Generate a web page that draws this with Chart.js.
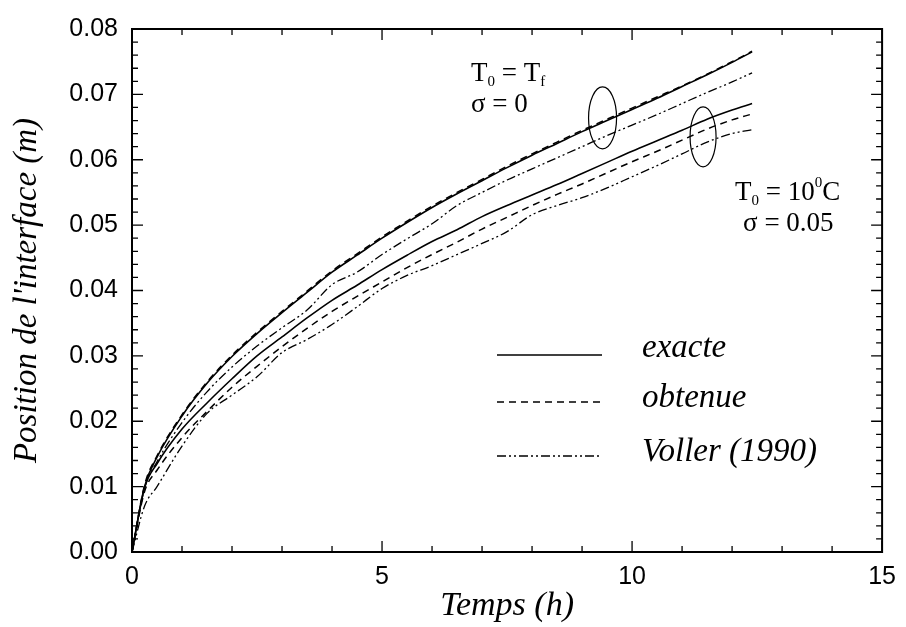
<!DOCTYPE html>
<html><head><meta charset="utf-8">
<script src="https://cdn.jsdelivr.net/npm/chart.js@4.4.1/dist/chart.umd.min.js"></script>
<style>html,body{margin:0;padding:0;background:#fff}#wrap{width:906px;height:627px}</style>
</head><body><div id="wrap"><canvas id="c" width="906" height="627"></canvas></div>
<script>
// Time (h)
const temps = [0, 0.25, 0.5, 1, 1.5, 2, 2.5, 3, 3.5, 4, 4.5, 5, 5.5, 6, 6.5, 7, 7.5, 8, 8.5, 9, 9.5, 10, 10.5, 11, 11.5, 12, 12.4];
// T0 = Tf, sigma = 0
const exacteTf  = [0, 0.0100, 0.0145, 0.0208, 0.0258, 0.0299, 0.0334, 0.0366, 0.0397, 0.0428, 0.0454, 0.0480, 0.0504, 0.0527, 0.0548, 0.0568, 0.0588, 0.0607, 0.0625, 0.0643, 0.0660, 0.0677, 0.0694, 0.0712, 0.0730, 0.0749, 0.0765];
const obtenueTf = [0, 0.0102, 0.0147, 0.0210, 0.0260, 0.0301, 0.0336, 0.0368, 0.0399, 0.0430, 0.0456, 0.0482, 0.0506, 0.0529, 0.0550, 0.0570, 0.0590, 0.0609, 0.0627, 0.0645, 0.0662, 0.0679, 0.0696, 0.0713, 0.0731, 0.0750, 0.0766];
const vollerTf  = [0, 0.0097, 0.0138, 0.0198, 0.0245, 0.0283, 0.0315, 0.0343, 0.0370, 0.0409, 0.0428, 0.0455, 0.0479, 0.0502, 0.0530, 0.0550, 0.0569, 0.0586, 0.0603, 0.0620, 0.0637, 0.0653, 0.0669, 0.0686, 0.0703, 0.0719, 0.0733];
// T0 = 10 C, sigma = 0.05
const exacte10  = [0, 0.0098, 0.0135, 0.0188, 0.0228, 0.0265, 0.0300, 0.0329, 0.0358, 0.0385, 0.0408, 0.0432, 0.0454, 0.0475, 0.0493, 0.0513, 0.0530, 0.0546, 0.0562, 0.0579, 0.0596, 0.0613, 0.0629, 0.0645, 0.0662, 0.0676, 0.0686];
const obtenue10 = [0, 0.0092, 0.0125, 0.0175, 0.0215, 0.0252, 0.0284, 0.0314, 0.0342, 0.0368, 0.0391, 0.0413, 0.0435, 0.0455, 0.0474, 0.0494, 0.0512, 0.0530, 0.0547, 0.0563, 0.0580, 0.0597, 0.0613, 0.0630, 0.0647, 0.0661, 0.0670];
const voller10  = [0, 0.0070, 0.0100, 0.0162, 0.0212, 0.0240, 0.0268, 0.0305, 0.0325, 0.0348, 0.0375, 0.0403, 0.0423, 0.0438, 0.0455, 0.0472, 0.0490, 0.0516, 0.0530, 0.0542, 0.0557, 0.0574, 0.0591, 0.0609, 0.0627, 0.0640, 0.0646];

const xRange = [0, 15];
const yRange = [0, 0.08];
const legendLabels = ['exacte', 'obtenue', 'Voller (1990)'];
const xTitle = 'Temps (h)';
const yTitle = "Position de l'interface (m)";

const SOLID = [], DASH = [7, 5], DDOT = [9, 3, 2, 3, 2, 3];
const pts = arr => temps.map((t, i) => ({x: t, y: arr[i]}));
function ds(arr, dash, w) {
  return {data: pts(arr), borderColor: '#000', borderWidth: w, borderDash: dash,
    pointRadius: 0, fill: false, cubicInterpolationMode: 'monotone'};
}

const serif = '"Liberation Serif", "DejaVu Serif", serif';
const sans = '"Liberation Sans", Arial, sans-serif';

const framePlugin = {
  id: 'frame',
  afterDraw(chart) {
    const {ctx, chartArea: a, scales: {x, y}} = chart;
    ctx.save();
    ctx.strokeStyle = '#000';
    ctx.lineWidth = 2;
    ctx.strokeRect(a.left, a.top, a.right - a.left, a.bottom - a.top);
    ctx.lineWidth = 1.3;
    ctx.beginPath();
    for (let k = 0; k <= 40; k++) {
      const v = k * 0.002, py = y.getPixelForValue(v);
      const len = (k % 5 === 0) ? 11 : 6;
      ctx.moveTo(a.left, py); ctx.lineTo(a.left + len, py);
      ctx.moveTo(a.right, py); ctx.lineTo(a.right - len, py);
    }
    for (let k = 0; k <= 15; k++) {
      const px = x.getPixelForValue(k);
      const len = (k % 5 === 0) ? 11 : 6;
      ctx.moveTo(px, a.bottom); ctx.lineTo(px, a.bottom - len);
      ctx.moveTo(px, a.top); ctx.lineTo(px, a.top + len);
    }
    ctx.stroke();

    // annotations
    const X = v => x.getPixelForValue(v), Y = v => y.getPixelForValue(v);
    ctx.lineWidth = 1.2;
    ctx.beginPath();
    ctx.ellipse(X(9.41), Y(0.0664), 14, 31, 0, 0, Math.PI * 2);
    ctx.stroke();
    ctx.beginPath();
    ctx.ellipse(X(11.42), Y(0.0635), 13, 30, 0, 0, Math.PI * 2);
    ctx.stroke();

    ctx.fillStyle = '#000';
    ctx.textBaseline = 'alphabetic';
    ctx.textAlign = 'left';
    function rich(parts, px, py) {
      let cx = px;
      for (const [txt, kind] of parts) {
        const size = kind ? 15 : 27;
        ctx.font = size + 'px ' + serif;
        const dy = kind === 'sub' ? 5 : (kind === 'sup' ? -13 : 0);
        ctx.fillText(txt, cx, py + dy);
        cx += ctx.measureText(txt).width;
      }
    }
    rich([['T'], ['0', 'sub'], [' = T'], ['f', 'sub']], X(6.78), Y(0.0720));
    rich([['σ = 0']], X(6.78), Y(0.0673));
    rich([['T'], ['0', 'sub'], [' = 10'], ['0', 'sup'], ['C']], X(12.06), Y(0.0538));
    rich([['σ = 0.05']], X(12.22), Y(0.0491));

    // legend
    const dashes = [SOLID, DASH, DDOT];
    const lineY = [355, 402, 456];
    const textY = [357, 407, 461];
    for (let i = 0; i < 3; i++) {
      ctx.setLineDash(dashes[i]);
      ctx.lineWidth = 1.4;
      ctx.beginPath();
      ctx.moveTo(497, lineY[i]); ctx.lineTo(602, lineY[i]);
      ctx.stroke();
      ctx.setLineDash([]);
      ctx.font = 'italic 33px ' + serif;
      ctx.fillText(legendLabels[i], 642, textY[i]);
    }
    ctx.restore();
  }
};

new Chart(document.getElementById('c'), {
  type: 'line',
  data: {datasets: [
    ds(exacteTf, SOLID, 1.6), ds(obtenueTf, DASH, 1.5), ds(vollerTf, DDOT, 1.3),
    ds(exacte10, SOLID, 1.6), ds(obtenue10, DASH, 1.5), ds(voller10, DDOT, 1.3)
  ]},
  options: {
    responsive: false, animation: false, devicePixelRatio: 1,
    layout: {padding: {top: 24, right: 20, left: 0, bottom: 0}},
    plugins: {legend: {display: false}, tooltip: {enabled: false}},
    scales: {
      x: {type: 'linear', min: xRange[0], max: xRange[1],
        grid: {display: false, drawTicks: false}, border: {display: false},
        ticks: {stepSize: 5, padding: 10, color: '#000', font: {family: sans, size: 25},
          callback: v => String(v)},
        title: {display: true, text: xTitle, color: '#000', font: {family: serif, size: 34, style: 'italic'}, padding: {top: 0, bottom: 1}},
        afterFit: s => { s.height = 75; }
      },
      y: {type: 'linear', min: yRange[0], max: yRange[1],
        grid: {display: false, drawTicks: false}, border: {display: false},
        ticks: {stepSize: 0.01, padding: 14, color: '#000', font: {family: sans, size: 25},
          callback: v => v.toFixed(2)},
        title: {display: true, text: yTitle, color: '#000', font: {family: serif, size: 33, style: 'italic'}, padding: {top: 8, bottom: 0}},
        afterFit: s => { s.width = 132; }
      }
    }
  },
  plugins: [framePlugin]
});
</script>
</body></html>
